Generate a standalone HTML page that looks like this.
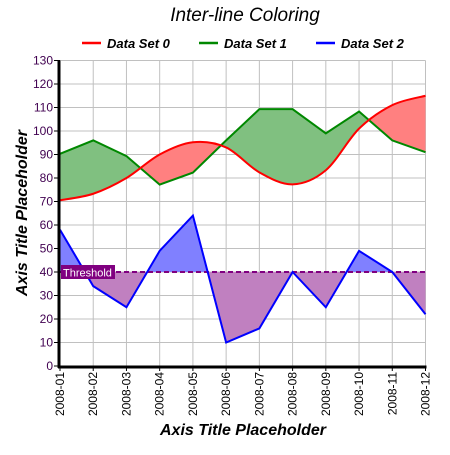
<!DOCTYPE html>
<html><head><meta charset="utf-8"><style>
body{margin:0;background:#fff;}
svg text{font-family:"Liberation Sans",Arial,sans-serif;}
</style></head><body>
<svg id="chart" width="450" height="450" viewBox="0 0 450 450">
<text x="245" y="21" text-anchor="middle" font-size="19" font-style="italic">Inter-line Coloring</text>
<g>
 <g><line x1="82" y1="43" x2="101" y2="43" stroke="#f00" stroke-width="2.5"/><text x="107" y="48" font-size="13" font-style="italic" font-weight="bold">Data Set 0</text></g>
 <g><line x1="199" y1="43" x2="218" y2="43" stroke="#080" stroke-width="2.5"/><text x="224" y="48" font-size="13" font-style="italic" font-weight="bold">Data Set 1</text></g>
 <g><line x1="316" y1="43" x2="335" y2="43" stroke="#00f" stroke-width="2.5"/><text x="341" y="48" font-size="13" font-style="italic" font-weight="bold">Data Set 2</text></g>
</g>
<g id="grid"></g>
<g id="plot"></g>
<g id="axes"></g>
<text transform="translate(27,213) rotate(-90)" text-anchor="middle" font-size="16" font-style="italic" font-weight="bold">Axis Title Placeholder</text>
<text x="243" y="435" text-anchor="middle" font-size="16" font-style="italic" font-weight="bold">Axis Title Placeholder</text>
</svg>
<script>
const categories=["2008-01","2008-02","2008-03","2008-04","2008-05","2008-06","2008-07","2008-08","2008-09","2008-10","2008-11","2008-12"];
const set0=[70.5,73.3,80,90,95.2,93,82.4,77.3,83.3,101,111,115];
const set1=[90.3,96,89.3,77.2,82.3,96,109.3,109.3,99,108.3,96,91];
const set2=[58,34,25,49,64,10,16,40,25,49,40,22];
const yTicks=[0,10,20,30,40,50,60,70,80,90,100,110,120,130];
const threshold=40;

const NS="http://www.w3.org/2000/svg";
const X0=60,X1=425.5,Y0=366,Y1=60.5,YMAX=130;
const xs=i=>X0+i*(X1-X0)/(categories.length-1);
const ys=v=>Y0-v*(Y0-Y1)/YMAX;
function mk(tag,attrs,parent){const e=document.createElementNS(NS,tag);for(const k in attrs)e.setAttribute(k,attrs[k]);parent.appendChild(e);return e;}
const svg=document.getElementById('chart'),grid=document.getElementById('grid'),plot=document.getElementById('plot'),axes=document.getElementById('axes');
const defs=mk('defs',{},svg);

yTicks.forEach(t=>{const l=mk('line',{x1:X0,x2:X1,y1:ys(t),y2:ys(t),stroke:'#c0c0c0','stroke-width':1},grid);

});
categories.forEach((c,i)=>{const l=mk('line',{x1:xs(i),x2:xs(i),y1:Y1,y2:Y0,stroke:'#c0c0c0','stroke-width':1},grid);

});

function segs(p,start){let d=start;const n=p.length;
for(let i=0;i<n-1;i++){const a=p[Math.max(0,i-1)],b=p[i],c=p[i+1],e=p[Math.min(n-1,i+2)];
const c1=[b[0]+(c[0]-a[0])/6,b[1]+(c[1]-a[1])/6],c2=[c[0]-(e[0]-b[0])/6,c[1]-(e[1]-b[1])/6];
d+=` C${c1[0]},${c1[1]} ${c2[0]},${c2[1]} ${c[0]},${c[1]}`;}return d;}
function smooth(vals){const p=vals.map((v,i)=>[xs(i),ys(v)]);return segs(p,`M${p[0][0]},${p[0][1]}`);}
function smoothReversed(vals){const p=vals.map((v,i)=>[xs(i),ys(v)]).reverse();return segs(p,`L${p[0][0]},${p[0][1]}`);}
function line(vals){return vals.map((v,i)=>(i?'L':'M')+xs(i)+','+ys(v)).join(' ');}

const s0=smooth(set0);
const cA=mk('clipPath',{id:'above0'},defs);mk('path',{d:s0+` L${X1},0 L${X0},0 Z`},cA);
const cB=mk('clipPath',{id:'below0'},defs);mk('path',{d:s0+` L${X1},450 L${X0},450 Z`},cB);
const bandPath=line(set1)+' '+smoothReversed(set0)+' Z';
const g1=mk('path',{d:bandPath,fill:'#80c080','clip-path':'url(#above0)'},plot);


const r1=mk('path',{d:bandPath,fill:'#ff8080','clip-path':'url(#below0)'},plot);



const ty=ys(threshold);
const cT=mk('clipPath',{id:'aboveT'},defs);mk('rect',{x:0,y:0,width:450,height:ty},cT);
const cU=mk('clipPath',{id:'belowT'},defs);mk('rect',{x:0,y:ty,width:450,height:450},cU);
const band2=line(set2)+` L${xs(11)},${ty} L${xs(0)},${ty} Z`;
const b2=mk('path',{d:band2,fill:'#8080ff','clip-path':'url(#aboveT)'},plot);


const p2=mk('path',{d:band2,fill:'#c080c0','clip-path':'url(#belowT)'},plot);



const l1=mk('path',{d:line(set1),fill:'none',stroke:'#080','stroke-width':2},plot);


const l0=mk('path',{d:s0,fill:'none',stroke:'#f00','stroke-width':2},plot);


const th=mk('line',{x1:X0,x2:X1,y1:ty,y2:ty,stroke:'#800080','stroke-width':2,'stroke-dasharray':'5,3'},plot);


const l2=mk('path',{d:line(set2),fill:'none',stroke:'#00f','stroke-width':2},plot);


const tb=mk('rect',{x:61,y:ty-7,width:54,height:14,fill:'#800080'},plot);


const tt=mk('text',{x:63,y:ty+4.5,'font-size':11,fill:'#fff'},plot);tt.textContent='Threshold';



const ya=mk('line',{x1:X0-1,x2:X0-1,y1:Y1,y2:Y0+2,stroke:'#000','stroke-width':3},axes);


const xa=mk('line',{x1:X0-2,x2:X1+1,y1:Y0+1,y2:Y0+1,stroke:'#000','stroke-width':3},axes);


yTicks.forEach(t=>{mk('line',{x1:X0-6,x2:X0,y1:ys(t),y2:ys(t),stroke:'#000','stroke-width':1},axes);
const tx=mk('text',{x:X0-7,y:ys(t)+4,'text-anchor':'end','font-size':12,fill:'#400050'},axes);tx.textContent=t;

});
categories.forEach((c,i)=>{mk('line',{x1:xs(i),x2:xs(i),y1:Y0,y2:Y0+5,stroke:'#000','stroke-width':1},axes);
const tx=mk('text',{transform:`translate(${xs(i)+4},${Y0+6}) rotate(-90)`,'text-anchor':'end','font-size':12,fill:'#000'},axes);tx.textContent=c;

});
</script>
</body></html>
